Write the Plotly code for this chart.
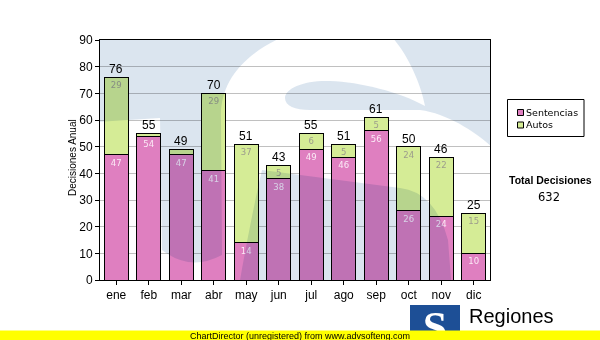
import base64
import plotly.graph_objects as go

# ---- data ----
months = ["ene", "feb", "mar", "abr", "may", "jun", "jul", "ago", "sep", "oct", "nov", "dic"]
sentencias = [47, 54, 47, 41, 14, 38, 49, 46, 56, 26, 24, 10]
autos = [29, 1, 2, 29, 37, 5, 6, 5, 5, 24, 22, 15]
series_names = ["Sentencias", "Autos"]
y_ticks = [0, 10, 20, 30, 40, 50, 60, 70, 80, 90]

totals = [s + a for s, a in zip(sentencias, autos)]
grand_total = sum(totals)

# ---- page geometry (pixels) ----
W, H = 600, 340
ML, MR, MT, MB = 100, 110, 40, 60
PW, PH = W - ML - MR, H - MT - MB


def fx(px):
    return (px - ML) / PW


def fy(py):
    return (H - MB - py) / PH


PINK = "#df7fc0"
GREEN = "#d5ec96"
FONT = "Liberation Sans, Arial, sans-serif"
VFONT = "DejaVu Sans, Verdana, sans-serif"


def inner_labels(vals, min_val=4):
    return [str(v) if v >= min_val else "" for v in vals]


def svg_uri(svg):
    return "data:image/svg+xml;base64," + base64.b64encode(svg.encode("utf-8")).decode("ascii")


def paper_text(xpx, ypx, text, size, family=FONT, xanchor="center", **kw):
    return dict(x=fx(xpx), y=fy(ypx), xref="paper", yref="paper", text=text,
                xanchor=xanchor, yanchor="middle", showarrow=False,
                font=dict(family=family, size=size, color="black"), **kw)


fig = go.Figure()
fig.add_trace(go.Bar(
    x=months, y=sentencias, name=series_names[0],
    marker=dict(color=PINK, line=dict(color="#000000", width=1)),
    text=inner_labels(sentencias), textposition="inside", insidetextanchor="end",
    constraintext="none",
    textangle=0, textfont=dict(family=VFONT, size=8.5, color="#fbeaf6"),
    hoverinfo="skip",
))
fig.add_trace(go.Bar(
    x=months, y=autos, name=series_names[1],
    marker=dict(color=GREEN, line=dict(color="#000000", width=1)),
    text=inner_labels(autos), textposition="inside", insidetextanchor="end",
    constraintext="none",
    textangle=0, textfont=dict(family=VFONT, size=8.5, color="#9c9c8c"),
    hoverinfo="skip",
))

annotations = []
# stack totals above each bar
for m, t in zip(months, totals):
    annotations.append(dict(x=m, y=t, xref="x", yref="y", text=str(t), showarrow=False,
                            xanchor="center", yanchor="bottom", yshift=-1,
                            font=dict(family=FONT, size=12, color="black")))

# y axis title
annotations.append(paper_text(72, 158, "Decisiones Anual", 10, textangle=-90))

# legend entries
for name, ypx in zip(series_names, [112.5, 125]):
    annotations.append(paper_text(524, ypx, name, 9.5, family=VFONT, xanchor="left"))

# grand total block
annotations.append(paper_text(550, 180, "<b>Total Decisiones</b>", 10.5))
annotations.append(paper_text(549, 196.5, str(grand_total), 11.5, family=VFONT))

# footer texts
annotations.append(paper_text(467, 316, "Regiones", 20, xanchor="left"))
annotations.append(paper_text(300, 335.5, "ChartDirector (unregistered) from www.advsofteng.com", 9))

shapes = [
    # legend frame and swatches
    dict(type="rect", xref="paper", yref="paper", x0=fx(507.5), x1=fx(584), y0=fy(136.5), y1=fy(99.5),
         line=dict(color="black", width=1), fillcolor="white", layer="above"),
    dict(type="rect", xref="paper", yref="paper", x0=fx(517.5), x1=fx(523.5), y0=fy(115.5), y1=fy(109.5),
         line=dict(color="black", width=1), fillcolor=PINK, layer="above"),
    dict(type="rect", xref="paper", yref="paper", x0=fx(517.5), x1=fx(523.5), y0=fy(128), y1=fy(122),
         line=dict(color="black", width=1), fillcolor=GREEN, layer="above"),
    # footer band
    dict(type="rect", xref="paper", yref="paper", x0=fx(0), x1=fx(600), y0=fy(340), y1=fy(330.5),
         line=dict(width=0), fillcolor="#ffff00", layer="above"),
]

# background emblem of the plot area: tinted field with a white "S"
emblem = (
    "<svg xmlns='http://www.w3.org/2000/svg' width='390' height='240' viewBox='0 0 390 240'>"
    "<path fill='rgb(190,207,225)' fill-opacity='0.55' fill-rule='evenodd' d='"
    "M0 0 H390 V240 H0 Z "
    "M-5 82 L60 78 L62 210 Q90 232 122 215 L121 80 "
    "C119 45 140 15 187 -5 L290 -5 C305 10 320 40 325 66 "
    "C300 52 260 42 230 41 C205 40 185 48 185 58 C185 66 195 70 210 70 "
    "L320 70 C350 74 380 95 395 110 "
    "L395 252 L352 252 L348 200 Q335 152 300 148 L162 130 "
    "C155 160 145 210 138 252 L-5 252 Z'/>"
    "</svg>"
)
logo = (
    "<svg xmlns='http://www.w3.org/2000/svg' width='50' height='35' viewBox='0 0 50 35'>"
    "<rect width='50' height='35' fill='#1d4f96'/>"
    "<text x='25' y='37' text-anchor='middle' font-family='Liberation Serif' font-weight='bold' "
    "font-size='44' fill='white'>S</text>"
    "</svg>"
)

images = [
    dict(source=svg_uri(emblem), xref="paper", yref="paper", x=0, y=1, sizex=1, sizey=1,
         xanchor="left", yanchor="top", sizing="stretch", layer="above"),
    dict(source=svg_uri(logo), xref="paper", yref="paper", x=fx(410), y=fy(305),
         sizex=50 / PW, sizey=35 / PH, xanchor="left", yanchor="top", sizing="stretch", layer="above"),
]

fig.update_layout(
    width=W, height=H,
    margin=dict(l=ML, r=MR, t=MT, b=MB, pad=0),
    barmode="stack", bargap=0.27,
    paper_bgcolor="white", plot_bgcolor="white",
    showlegend=False,
    font=dict(family=FONT, size=12, color="black"),
    annotations=annotations, shapes=shapes, images=images,
)
fig.update_xaxes(showline=True, linecolor="black", linewidth=1, mirror=True,
                 ticks="outside", ticklen=4, tickcolor="black", showgrid=False,
                 tickfont=dict(family=FONT, size=12, color="black"))
fig.update_yaxes(range=[0, 90], tickvals=y_ticks, showline=True, linecolor="black", linewidth=1,
                 mirror=True, ticks="outside", ticklen=4, tickcolor="black",
                 showgrid=True, gridcolor="#c0c0c0", gridwidth=1, zeroline=False,
                 tickfont=dict(family=FONT, size=12, color="black"))

# the emblem darkens whatever lies under it
blend = (
    "var gd=document.getElementById('{plot_id}');"
    "var ims=gd.querySelectorAll('.layer-above .imagelayer image');"
    "if(ims.length){ims[0].style.mixBlendMode='multiply';}"
    "document.body.style.margin='0';"
)

fig.write_html("out.html", post_script=blend, config={"displayModeBar": False})
